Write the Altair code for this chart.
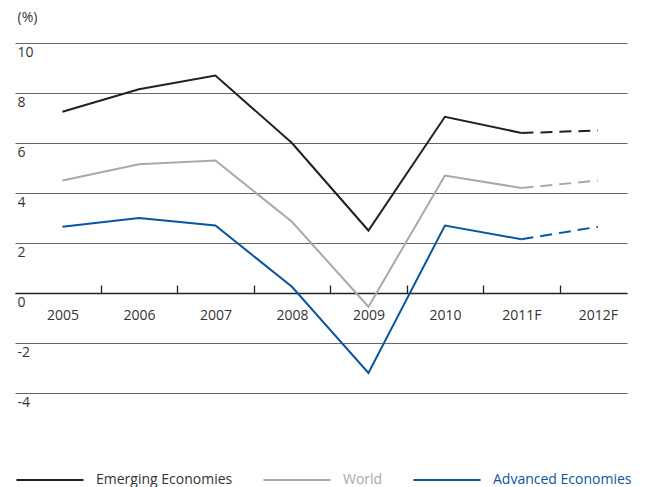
import altair as alt
import pandas as pd

years = ["2005", "2006", "2007", "2008", "2009", "2010", "2011F", "2012F"]
names = ["Emerging Economies", "World", "Advanced Economies"]
colors = ["#231f20", "#a9a9a9", "#0b55a0"]
emerging = [7.25, 8.15, 8.7, 6.0, 2.5, 7.05, 6.4, 6.5]
world = [4.5, 5.15, 5.3, 2.85, -0.55, 4.7, 4.2, 4.5]
advanced = [2.65, 3.0, 2.7, 0.25, -3.2, 2.7, 2.15, 2.65]
y_ticks = [-4, -2, 0, 2, 4, 6, 8, 10]

series_vals = [emerging, world, advanced]
rows_solid, rows_dash = [], []
for name, vals in zip(names, series_vals):
    for i, (yr, v) in enumerate(zip(years, vals)):
        if i <= 6:
            rows_solid.append({"year": yr, "series": name, "value": v})
        if i >= 6:
            rows_dash.append({"year": yr, "series": name, "value": v})
df_solid = pd.DataFrame(rows_solid)
df_dash = pd.DataFrame(rows_dash)

font = "Open Sans"
xscale = alt.Scale(type="point", domain=years, padding=0.5, align=0.62)
yscale = alt.Scale(domain=[-4, 10], nice=False, zero=False)
cscale = alt.Scale(domain=names, range=colors)

label_color_expr = (
    f"datum.label == '{names[1]}' ? '{colors[1]}' : "
    f"datum.label == '{names[2]}' ? '{colors[2]}' : '#333333'"
)

y_axis = alt.Axis(values=y_ticks, grid=True, gridColor="#666", gridWidth=1.2,
                  domain=False, ticks=False, tickSize=0, labelAlign="left",
                  labelBaseline="top", labelPadding=-2, labelOffset=2,
                  labelExpr="'' + datum.value",
                  labelFontSize=14, labelColor="#333", labelFont=font,
                  title="(%)", titleAngle=0, titleAlign="left", titleX=2,
                  titleY=-26, titleBaseline="middle", titleFontWeight="normal",
                  titleFontSize=14, titleColor="#333", titleFont=font)

solid = alt.Chart(df_solid).mark_line(strokeWidth=2).encode(
    x=alt.X("year:N", sort=years, scale=xscale,
            axis=alt.Axis(orient="bottom", offset=-100, ticks=False, tickSize=0,
                          domain=False, labelPadding=15, labelFontSize=14,
                          labelColor="#333", labelAngle=0, labelFont=font, title=None)),
    y=alt.Y("value:Q", scale=yscale, axis=y_axis),
    color=alt.Color("series:N", scale=cscale, sort=names,
                    legend=alt.Legend(orient="none", legendX=0, legendY=402,
                                      direction="horizontal", title=None,
                                      symbolType="stroke", symbolSize=4500,
                                      symbolStrokeWidth=2, labelFontSize=14,
                                      labelFont=font, columnPadding=26,
                                      labelOffset=11, labelLimit=300,
                                      labelColor=alt.ExprRef(label_color_expr))),
    detail="series:N",
)

dash = alt.Chart(df_dash).mark_line(strokeWidth=2, strokeDash=[12, 7]).encode(
    x=alt.X("year:N", sort=years, scale=xscale,
            axis=alt.Axis(orient="top", offset=-250, labels=False, ticks=True,
                          tickSize=8, tickOffset=38.3, tickColor="#222", tickWidth=1.3,
                          values=years[:-1], domain=True, domainColor="#222",
                          domainWidth=1.3, title=None, grid=False)),
    y=alt.Y("value:Q", scale=yscale, axis=y_axis),
    color=alt.Color("series:N", scale=cscale, sort=names, legend=None),
    detail="series:N",
)

chart = alt.layer(solid, dash).resolve_axis(x="independent").properties(
    width=612, height=350,
    autosize=alt.AutoSizeParams(type="none"),
    padding={"left": 7, "top": 35, "right": 11, "bottom": 94},
).configure_view(stroke=None).configure_axis(labelFont=font)

chart.save("out.html", embed_options={"renderer": "svg", "actions": False})
